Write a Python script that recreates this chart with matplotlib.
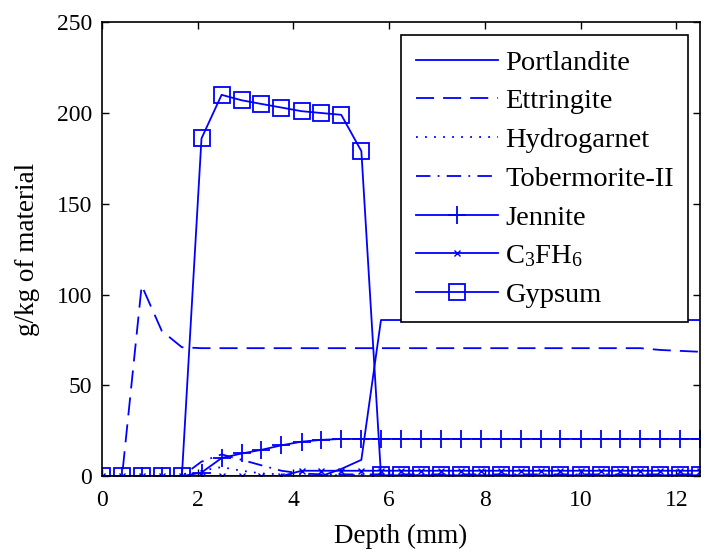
import matplotlib
matplotlib.use("Agg")
import matplotlib.pyplot as plt

depth = [0.00, 0.42, 0.83, 1.25, 1.67, 2.08, 2.50, 2.92, 3.33, 3.75, 4.17,
         4.58, 5.00, 5.42, 5.83, 6.25, 6.67, 7.08, 7.50, 7.92, 8.33, 8.75,
         9.17, 9.58, 10.00, 10.42, 10.83, 11.25, 11.67, 12.08, 12.50]

portlandite = [0, 0, 0, 0, 0, 0, 0, 0, 0, 0, 0,
               0, 4, 9, 86, 86, 86, 86, 86, 86, 86, 86,
               86, 86, 86, 86, 86, 86, 86, 86, 86]
ettringite = [0, 0, 105, 80, 71, 70.5, 70.5, 70.5, 70.5, 70.5, 70.5,
              70.5, 70.5, 70.5, 70.5, 70.5, 70.5, 70.5, 70.5, 70.5, 70.5, 70.5,
              70.5, 70.5, 70.5, 70.5, 70.5, 70.5, 69.5, 69, 68.5]
hydrogarnet = [0, 0, 0, 0, 0, 3, 5, 3, 1.5, 1, 0.5,
               0.5, 0.5, 0.5, 0.5, 0.5, 0.5, 0.5, 0.5, 0.5, 0.5, 0.5,
               0.5, 0.5, 0.5, 0.5, 0.5, 0.5, 0.5, 0.5, 0.5]
tobermorite = [0, 0, 0, 0, 0, 8, 12, 9, 6, 3, 1.5,
               1, 1, 1, 1, 1, 1, 1, 1, 1, 1, 1,
               1, 1, 1, 1, 1, 1, 1, 1, 1]
jennite = [0, 0, 0, 0, 0, 2, 10, 12.5, 14.5, 17, 19,
           20, 20.5, 20.5, 20.5, 20.5, 20.5, 20.5, 20.5, 20.5, 20.5, 20.5,
           20.5, 20.5, 20.5, 20.5, 20.5, 20.5, 20.5, 20.5, 20.5]
c3fh6 = [0, 0, 0, 0, 0, 0, 0, 0, 0, 0, 3,
         3, 3, 3, 3, 3, 3, 3, 3, 3, 3, 3,
         3, 3, 3, 3, 3, 3, 3, 3, 3]
gypsum = [0, 0, 0, 0, 0, 186, 210, 207, 205, 203, 201,
          200, 199, 179, 0.5, 0.5, 0.5, 0.5, 0.5, 0.5, 0.5, 0.5,
          0.5, 0.5, 0.5, 0.5, 0.5, 0.5, 0.5, 0.5, 0.5]

labels = ["Portlandite", "Ettringite", "Hydrogarnet", "Tobermorite-II",
          "Jennite", "C$_3$FH$_6$", "Gypsum"]
xticks = [0, 2, 4, 6, 8, 10, 12]
yticks = [0, 50, 100, 150, 200, 250]

plt.rcParams["font.family"] = ["Liberation Serif", "DejaVu Serif"]
plt.rcParams["mathtext.default"] = "regular"
plt.rcParams["font.size"] = 17

blue = "#0000ff"
fig = plt.figure(figsize=(7.08, 5.55), dpi=100)
ax = fig.add_axes([0.144, 0.142, 0.845, 0.818])

lw = 1.3
ax.plot(depth, portlandite, color=blue, lw=lw, ls="-", label=labels[0])
ax.plot(depth, ettringite, color=blue, lw=lw, ls=(0, (10, 5)), label=labels[1])
ax.plot(depth, hydrogarnet, color=blue, lw=lw, ls=(0, (1, 4)), label=labels[2])
ax.plot(depth, tobermorite, color=blue, lw=lw, ls=(0, (8, 4, 1, 4)), label=labels[3])
ax.plot(depth, jennite, color=blue, lw=lw, ls="-", marker="+", ms=13,
        mew=1.3, label=labels[4])
ax.plot(depth, c3fh6, color=blue, lw=lw, ls="-", marker="x", ms=5,
        mew=1.0, label=labels[5])
ax.plot(depth, gypsum, color=blue, lw=lw, ls="-", marker="s", ms=12,
        mfc="none", mew=1.3, label=labels[6])

ax.set_xlim(0, 12.5)
ax.set_ylim(0, 250)
ax.set_xticks(xticks)
ax.set_yticks(yticks)
ax.tick_params(direction="in", top=True, right=True, length=5, width=1,
               labelsize=17)
ax.tick_params(axis="x", pad=10)
ax.tick_params(axis="y", pad=7)
for s in ax.spines.values():
    s.set_linewidth(1.2)
ax.set_xlabel("Depth (mm)", fontsize=19.5, labelpad=9)
ax.set_ylabel("g/kg of material", fontsize=19.5, labelpad=12)

leg = ax.legend(loc="upper right", bbox_to_anchor=(0.980, 0.971),
                borderaxespad=0, fancybox=False, framealpha=1,
                edgecolor="black", handlelength=2.9, handletextpad=0.25,
                labelspacing=0.45, borderpad=0.5, fontsize=20.5)
leg.get_frame().set_linewidth(1.2)

fig.savefig("out.png", dpi=100)
